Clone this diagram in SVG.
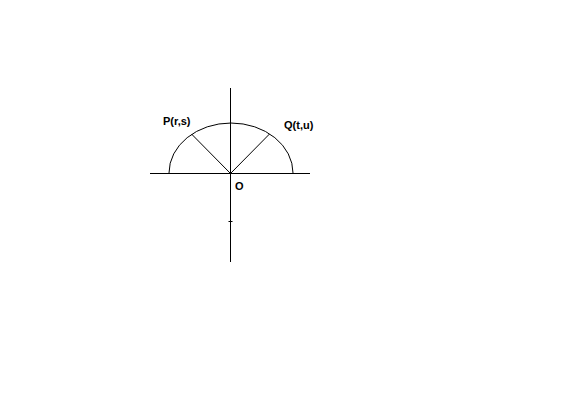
<svg xmlns="http://www.w3.org/2000/svg" width="562" height="417" viewBox="0 0 562 417">
<style>
.ln{stroke:#000;stroke-width:1;fill:none}
.lb{font-family:"Liberation Sans",Arial,sans-serif;font-size:11px;font-weight:bold;fill:#000}
</style>
<rect width="562" height="417" fill="#fff"/>
<g id="connectors">
<line class="ln" x1="230.5" y1="88" x2="230.5" y2="262"/>
<line class="ln" x1="150" y1="173.5" x2="310" y2="173.5"/>
<line class="ln" x1="228.5" y1="221.5" x2="232.5" y2="221.5"/>
<path class="ln" d="M169,173 A62,50 0 0 1 293,173"/>
<line class="ln" x1="230.5" y1="173.5" x2="191.5" y2="134"/>
<line class="ln" x1="230.5" y1="173.5" x2="269.5" y2="134"/>
</g>
<g id="P"><text class="lb" x="163" y="125">P(r,s)</text></g>
<g id="Q"><text class="lb" x="284" y="129">Q(t,u)</text></g>
<g id="O"><text class="lb" x="235" y="190">O</text></g>
</svg>
